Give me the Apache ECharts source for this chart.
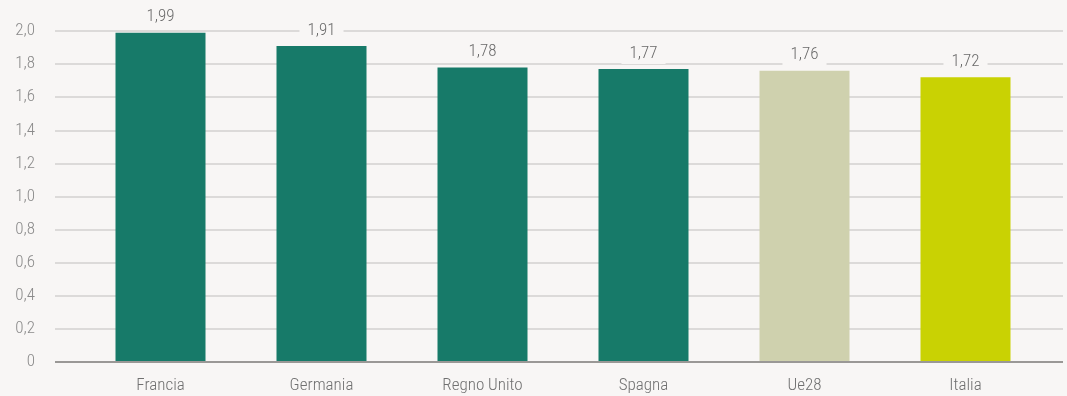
<!DOCTYPE html>
<html>
<head>
<meta charset="utf-8">
<script src="https://cdn.jsdelivr.net/npm/echarts@6/dist/echarts.min.js"></script>
<style>
  html, body { margin: 0; padding: 0; background: #f8f6f5; }
  #chart { width: 1067px; height: 396px; }
</style>
</head>
<body>
<div id="chart"></div>
<script>
// Paesi e valori
const categories = ['Francia', 'Germania', 'Regno Unito', 'Spagna', 'Ue28', 'Italia'];
const values = [1.99, 1.91, 1.78, 1.77, 1.76, 1.72];
const barColors = ['#177a69', '#177a69', '#177a69', '#177a69', '#cfd1ae', '#c9d203'];

const FONT = '"Roboto Condensed", "Liberation Sans Narrow", Roboto, sans-serif';
const fmt = v => (v === 0 ? '0' : v.toFixed(1).replace('.', ','));

const chart = echarts.init(document.getElementById('chart'));
chart.setOption({
  backgroundColor: '#f8f6f5',
  animation: false,
  grid: [
    { left: 55, right: 4, top: 31, bottom: 34 },
    { left: 80, right: 21, top: 31, bottom: 34 }
  ],
  xAxis: [
    { gridIndex: 0, type: 'category', data: categories, show: false },
    {
      gridIndex: 1, type: 'category', data: categories,
      axisLine: { show: false }, axisTick: { show: false },
      axisLabel: { color: '#707070', fontSize: 17, fontWeight: 300, fontFamily: FONT, margin: 15 }
    }
  ],
  yAxis: [
    {
      gridIndex: 0, type: 'value', min: 0, max: 2, interval: 0.2,
      axisLine: { show: false }, axisTick: { show: false },
      axisLabel: { color: '#8a8a8a', fontSize: 17, fontWeight: 300, fontFamily: FONT, margin: 20, formatter: fmt },
      splitLine: { lineStyle: { color: '#d3d1cf', width: 1.5 } }
    },
    {
      gridIndex: 1, type: 'value', min: 0, max: 2, interval: 0.2, show: false,
      splitLine: { show: false }
    }
  ],
  series: [
    {
      type: 'line', xAxisIndex: 0, yAxisIndex: 0, data: [],
      markLine: {
        silent: true, symbol: 'none', label: { show: false },
        lineStyle: { color: '#9a9896', width: 2, type: 'solid' },
        data: [{ yAxis: 0 }]
      }
    },
    {
      type: 'bar', xAxisIndex: 1, yAxisIndex: 1,
      barWidth: 90,
      data: values.map((v, i) => ({ value: v, itemStyle: { color: barColors[i] } })),
      label: {
        show: true, position: 'top', distance: 5,
        color: '#6a6a6a', fontSize: 17, fontWeight: 300, fontFamily: FONT,
        backgroundColor: '#f8f6f5', padding: [2, 8],
        formatter: p => p.value.toFixed(2).replace('.', ',')
      }
    }
  ]
});
</script>
</body>
</html>
